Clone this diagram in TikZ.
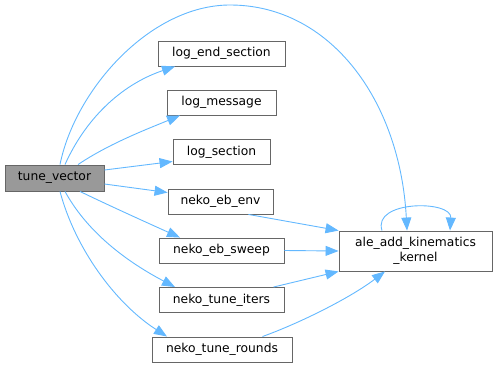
\documentclass[tikz,border=0pt]{standalone}
\definecolor{callblue}{RGB}{99, 184, 255}
\definecolor{boxgray}{RGB}{102, 102, 102}
\definecolor{rootgray}{RGB}{153, 153, 153}
\usepackage{fontspec}
\setmainfont{DejaVu Sans}
\usepackage{tikz}
\usetikzlibrary{arrows.meta, positioning}

\begin{document}
\begin{tikzpicture}[
  x=1pt, y=1pt,
  fnbox/.style={draw=boxgray, fill=white, line width=0.9pt, minimum height=25pt, inner sep=2pt, font=\fontsize{12.3}{14.5}\selectfont, align=center},
  call/.style={draw=callblue, line width=0.9pt, -{Triangle[length=13pt, width=10pt]}}
]
  \useasboundingbox (0,0) rectangle (497,368);
  \node[fnbox, fill=rootgray, minimum width=99pt, minimum height=26pt] (tv) at (54.5,190) {tune\_vector};
  \node[fnbox, minimum width=127pt] (les) at (221.5,314.5) {log\_end\_section};
  \node[fnbox, minimum width=109pt] (lm) at (221.5,265.5) {log\_message};
  \node[fnbox, minimum width=97pt] (ls) at (221.5,216) {log\_section};
  \node[fnbox, minimum width=105pt] (env) at (220.5,166.5) {neko\_eb\_env};
  \node[fnbox, minimum width=125pt] (sweep) at (221.5,117.5) {neko\_eb\_sweep};
  \node[fnbox, minimum width=125pt] (iters) at (221.5,68) {neko\_tune\_iters};
  \node[fnbox, minimum width=140pt] (rounds) at (222,18.5) {neko\_tune\_rounds};
  \node[fnbox, minimum width=153pt, minimum height=40pt] (ale) at (415.5,117) {ale\_add\_kinematics\\\_kernel};

  % calls from tune_vector
  \draw[call] ([xshift=5.5pt]tv.north) .. controls (75,278) and (150,363) .. (230,363)
    .. controls (330,363) and (400,268) .. ([xshift=-8.5pt]ale.north);
  \draw[call] ([xshift=10.5pt]tv.north) .. controls (85,248) and (120,283) .. ([xshift=-46.5pt]les.south);
  \draw[call] ([xshift=23.5pt]tv.north) .. controls (110,225) and (150,240) .. ([xshift=-41.5pt]lm.south);
  \draw[call] ([yshift=8pt]tv.east) -- ([yshift=-9.5pt]ls.west);
  \draw[call] ([yshift=-6pt]tv.east) -- ([yshift=9pt]env.west);
  \draw[call] ([xshift=25.5pt]tv.south) .. controls (110,162) and (150,144) .. ([xshift=-41.5pt]sweep.north);
  \draw[call] ([xshift=10.5pt]tv.south) .. controls (85,140) and (120,110) .. ([xshift=-46.5pt]iters.north);
  \draw[call] ([xshift=5.5pt]tv.south) .. controls (75,120) and (115,65) .. ([xshift=-55pt]rounds.north);

  % calls into the kernel
  \draw[call] ([xshift=-25pt]env.south east) -- (ale.north west);
  \draw[call] (sweep.east) -- (ale.west);
  \draw[call] ([xshift=-11pt]iters.north east) -- (ale.south west);
  \draw[call] ([xshift=-30pt]rounds.north east) .. controls (300,45) and (350,70) .. ([xshift=-30.5pt]ale.south);
  \draw[call] ([xshift=-33.5pt]ale.north) .. controls (372,168) and (452,168) .. ([xshift=34.5pt]ale.north);
\end{tikzpicture}
\end{document}
